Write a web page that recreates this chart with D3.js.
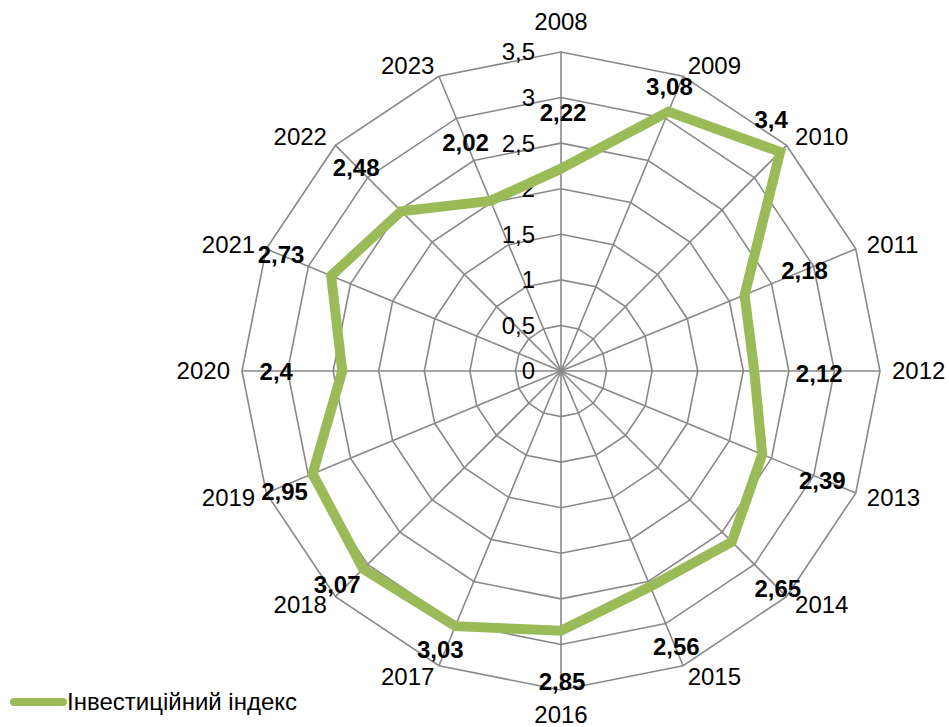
<!DOCTYPE html>
<html>
<head>
<meta charset="utf-8">
<script src="https://cdn.jsdelivr.net/npm/d3@7/dist/d3.min.js"></script>
<style>
  html, body { margin: 0; padding: 0; background: #fff; }
  svg { display: block; font-family: "Liberation Sans", Arial, sans-serif; }
</style>
</head>
<body>
<svg id="chart" width="949" height="727"></svg>
<script>
// ---- data ----
const categories = ["2008","2009","2010","2011","2012","2013","2014","2015",
                    "2016","2017","2018","2019","2020","2021","2022","2023"];
const values = [2.22, 3.08, 3.4, 2.18, 2.12, 2.39, 2.65, 2.56,
                2.85, 3.03, 3.07, 2.95, 2.4, 2.73, 2.48, 2.02];
const valueLabels = ["2,22","3,08","3,4","2,18","2,12","2,39","2,65","2,56",
                     "2,85","3,03","3,07","2,95","2,4","2,73","2,48","2,02"];
const tickValues = [0, 0.5, 1, 1.5, 2, 2.5, 3, 3.5];
const tickLabels = ["0","0,5","1","1,5","2","2,5","3","3,5"];
const seriesName = "Інвестиційний індекс";

// label nudges (px) relative to each data point (layout only)
const labelShift = [[2,-56],[1,-25],[-9,-32],[60,-24],[65,3],[60,26],[46,47],[26,60],
                    [1,51],[-15,23],[-26,16],[-28,18],[-66,1],[-50,-21],[-45,-44],[-25,-58]];

// ---- layout ----
const cx = 561, cy = 371, R = 319;
const gridColor = "#898989";
const lineColor = "#9BBB59";
const fontSize = 24;

const svg = d3.select("#chart");
const r = d3.scaleLinear().domain([0, 3.5]).range([0, R]);
const step = 2 * Math.PI / categories.length;
const ang = (i) => i * step;
const pt = (i, rad) => [cx + rad * Math.sin(ang(i)), cy - rad * Math.cos(ang(i))];

const g = svg.append("g");

// rings
tickValues.filter(v => v > 0).forEach(v => {
  const pts = categories.map((c, i) => pt(i, r(v)));
  g.append("path")
    .attr("d", d3.line()(pts) + "Z")
    .attr("fill", "none")
    .attr("stroke", gridColor)
    .attr("stroke-width", 1.6);
});

// spokes
categories.forEach((c, i) => {
  const [x, y] = pt(i, R);
  g.append("line")
    .attr("x1", cx).attr("y1", cy).attr("x2", x).attr("y2", y)
    .attr("stroke", gridColor).attr("stroke-width", 1.6);
});

// tick labels
tickValues.forEach((v, k) => {
  g.append("text")
    .attr("x", cx - 26)
    .attr("y", cy - r(v))
    .attr("dy", "0.35em")
    .attr("text-anchor", "end")
    .attr("font-size", fontSize)
    .attr("fill", "#000")
    .text(tickLabels[k]);
});

// category labels
categories.forEach((c, i) => {
  const [x, y] = pt(i, R + 12);
  const a = ang(i);
  const t = g.append("text")
    .attr("x", x).attr("y", y)
    .attr("font-size", fontSize)
    .attr("fill", "#000")
    .text(c);
  if (Math.abs(a) < 1e-6) {
    t.attr("text-anchor", "middle").attr("dy", "-0.4em");
  } else if (Math.abs(a - Math.PI) < 1e-6) {
    t.attr("text-anchor", "middle").attr("dy", "0.86em");
  } else if (a < Math.PI) {
    t.attr("text-anchor", "start").attr("dy", "0.35em");
  } else {
    t.attr("text-anchor", "end").attr("dy", "0.35em");
  }
});

// series line
const seriesPts = values.map((v, i) => pt(i, r(v)));
g.append("path")
  .attr("d", d3.line()(seriesPts) + "Z")
  .attr("fill", "none")
  .attr("stroke", lineColor)
  .attr("stroke-width", 10)
  .attr("stroke-linejoin", "miter")
  .attr("stroke-miterlimit", 4);

// data labels
values.forEach((v, i) => {
  const [x, y] = pt(i, r(v));
  g.append("text")
    .attr("x", x + labelShift[i][0])
    .attr("y", y + labelShift[i][1])
    .attr("dy", "0.35em")
    .attr("text-anchor", "middle")
    .attr("font-size", fontSize)
    .attr("font-weight", "bold")
    .attr("fill", "#000")
    .text(valueLabels[i]);
});

// legend
const lg = svg.append("g");
lg.append("line")
  .attr("x1", 14).attr("x2", 63).attr("y1", 702).attr("y2", 702)
  .attr("stroke", lineColor).attr("stroke-width", 8).attr("stroke-linecap", "round");
lg.append("text")
  .attr("x", 67).attr("y", 702).attr("dy", "0.35em")
  .attr("font-size", fontSize)
  .attr("fill", "#000")
  .text(seriesName);
</script>
</body>
</html>
